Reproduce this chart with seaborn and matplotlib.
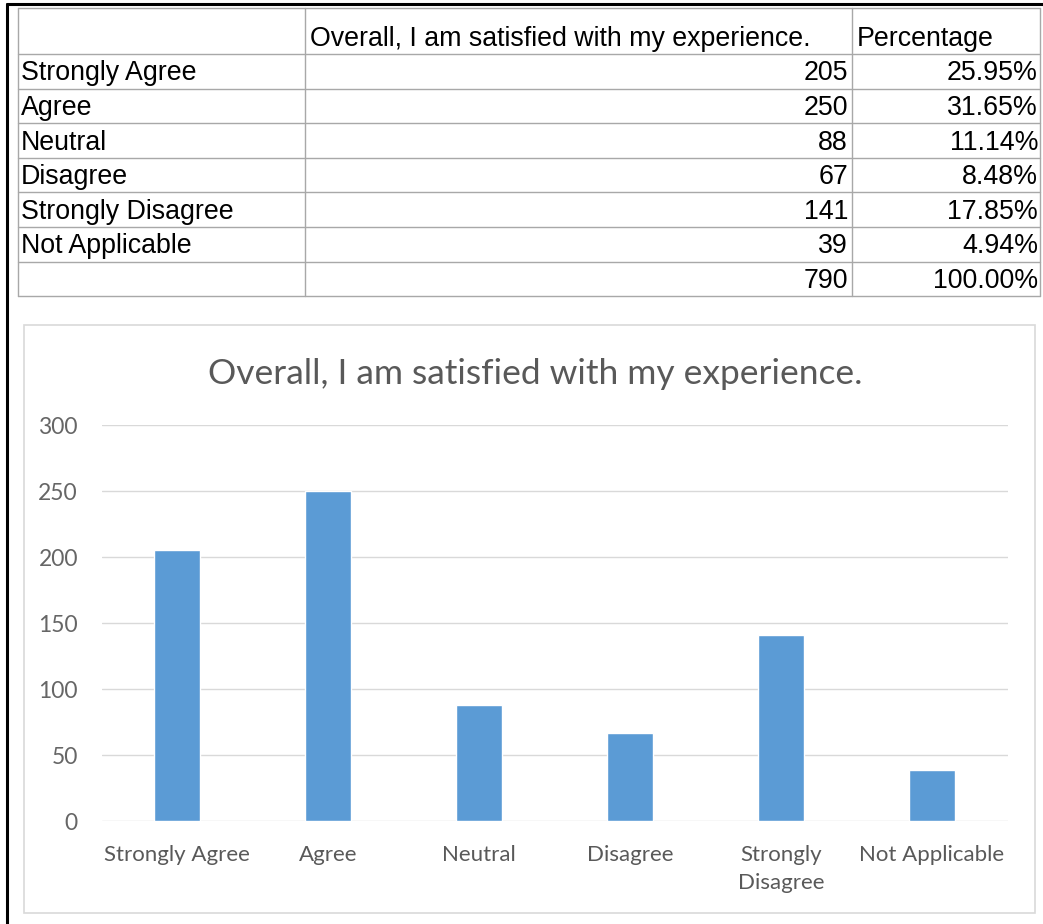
import matplotlib
matplotlib.use("Agg")
import matplotlib.pyplot as plt
from matplotlib.patches import Rectangle
import seaborn as sns
import pandas as pd

# -----------------------------
# data
# -----------------------------
question = "Overall, I am satisfied with my experience."
categories = ["Strongly Agree", "Agree", "Neutral", "Disagree", "Strongly Disagree", "Not Applicable"]
counts = [205, 250, 88, 67, 141, 39]
percentages = ["25.95%", "31.65%", "11.14%", "8.48%", "17.85%", "4.94%"]
total_count = 790
total_pct = "100.00%"
tick_labels = ["Strongly Agree", "Agree", "Neutral", "Disagree", "Strongly\nDisagree", "Not Applicable"]
y_ticks = [0, 50, 100, 150, 200, 250, 300]

df = pd.DataFrame({"response": categories, "count": counts})

sns.set_style("white")
plt.rcParams["font.family"] = ["Lato", "DejaVu Sans"]

W, H = 1043, 924
fig = plt.figure(figsize=(W / 100, H / 100), dpi=100)

# -----------------------------
# table (pixel coordinates)
# -----------------------------
tax = fig.add_axes([0, 0, 1, 1])
tax.set_xlim(0, W)
tax.set_ylim(H, 0)
tax.axis("off")

col_x = [18, 305, 852, 1040]
head_top, head_bot, row_h = 8, 54, 34.6
n_rows = len(categories) + 1
row_y = [head_top, head_bot] + [head_bot + row_h * (i + 1) for i in range(n_rows)]
grid_c = "#A8A8A8"
for y in row_y:
    tax.plot([col_x[0], col_x[-1]], [y, y], color=grid_c, lw=1)
for x in col_x:
    tax.plot([x, x], [row_y[0], row_y[-1]], color=grid_c, lw=1)

tfont = dict(family="Liberation Sans", fontsize=19.3, color="black", va="center")
tax.text(col_x[1] + 5, (head_top + head_bot) / 2 + 8, question, ha="left", **tfont)
tax.text(col_x[2] + 5, (head_top + head_bot) / 2 + 8, "Percentage", ha="left", **tfont)
rows = list(zip(categories, counts, percentages)) + [("", total_count, total_pct)]
for i, (lab, cnt, pct) in enumerate(rows):
    yc = head_bot + row_h * (i + 0.5) + 2
    tax.text(col_x[0] + 3, yc, lab, ha="left", **tfont)
    tax.text(col_x[2] - 4, yc, str(cnt), ha="right", **tfont)
    tax.text(col_x[3] - 2, yc, pct, ha="right", **tfont)

# outer black frame and chart frame
tax.plot([7, 7], [4, H], color="black", lw=2.2)
tax.plot([7, W], [4, 4], color="black", lw=2.2)
tax.add_patch(Rectangle((24, 325), 1011, 588, fill=False, edgecolor="#D9D9D9", lw=1.2))

# -----------------------------
# bar chart
# -----------------------------
ax = fig.add_axes([101.5 / W, (H - 821) / H, (1007.5 - 101.5) / W, (821 - 425) / H])
sns.barplot(data=df, x="response", y="count", color="#5B9BD5", saturation=1, width=0.31, ax=ax)
ax.set_ylim(0, 300)
ax.set_yticks(y_ticks)
ax.set_xticks(range(len(categories)))
ax.set_xticklabels(tick_labels, linespacing=1.5)
ax.set_xlabel("")
ax.set_ylabel("")
ax.set_axisbelow(True)
ax.yaxis.grid(True, color="#D9D9D9", lw=1)
for s in ax.spines.values():
    s.set_visible(False)
ax.patch.set_alpha(0)
ax.tick_params(axis="both", length=0, labelsize=16, labelcolor="#595959")
ax.tick_params(axis="y", labelsize=16.5, labelcolor="#666666", pad=17)
ax.tick_params(axis="x", pad=17)

fig.text(535 / W, 1 - 374 / H, question, ha="center", va="center", fontsize=25.5, color="#595959")

fig.savefig("out.png", dpi=100)
